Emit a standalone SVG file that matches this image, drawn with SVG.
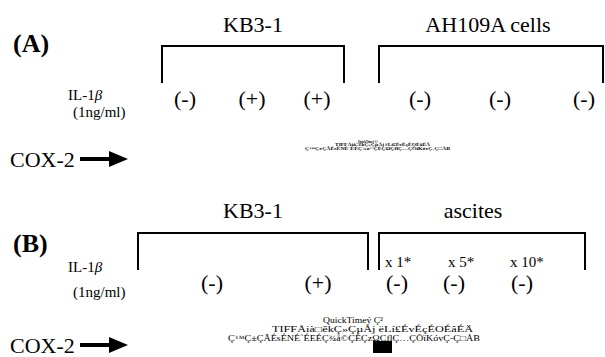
<svg xmlns="http://www.w3.org/2000/svg" width="605" height="357" viewBox="0 0 605 357" font-family="'Liberation Serif', 'DejaVu Serif', serif">
<style>
text{font-family:'Liberation Serif','DejaVu Serif',serif;fill:#000}
.panel{font-size:26px;font-weight:bold}
.title{font-size:22px;text-anchor:middle}
.sign{font-size:22px;text-anchor:middle}
.il{font-size:15px}
.cox{font-size:22px}
.dil{font-size:15px}
.qt{font-size:8.5px}
.qta{font-size:4px;font-weight:bold}
.br{fill:none;stroke:#000;stroke-width:2}
.arr{stroke:#000;stroke-width:4}
</style>
<defs>
<g id="arrow"><line class="arr" x1="80" y1="0" x2="112" y2="0"/><polygon points="109,-8 128,0 109,8" fill="#000"/></g>
</defs>
<rect width="605" height="357" fill="#fff"/>
<g id="panelA">
<text class="panel" x="13" y="52">(A)</text>
<text class="title" x="253" y="32">KB3-1</text>
<text class="title" x="488" y="32">AH109A cells</text>
<polyline class="br" points="162,83 162,46 344,46 344,83"/>
<polyline class="br" points="379,83 379,46 603,46 603,83"/>
<text class="il" x="68" y="100">IL-1<tspan font-style="italic">β</tspan></text>
<text class="il" x="73" y="117">(1ng/ml)</text>
<text class="sign" x="185" y="106">(-)</text>
<text class="sign" x="252" y="106">(+)</text>
<text class="sign" x="317" y="106">(+)</text>
<text class="sign" x="420" y="106">(-)</text>
<text class="sign" x="500" y="106">(-)</text>
<text class="sign" x="584" y="106">(-)</text>
<text class="cox" x="10" y="167">COX-2</text>
<use href="#arrow" y="159"/>
<text class="qta" x="358" y="142.5" textLength="20" lengthAdjust="spacingAndGlyphs">QuickTimeý Ç²</text>
<text class="qta" x="335" y="146" textLength="95" lengthAdjust="spacingAndGlyphs">TIFFÅià□ěkÇ»ÇµÅj ëLí£ÉvÉçÉOÉâÉÄ</text>
<text class="qta" x="305" y="149.5" textLength="145" lengthAdjust="spacingAndGlyphs">Ç™Ç±ÇÃÉsÉNÉ`ÉÉÇ¾å©ÇÈÇΩÇflÇ…ÇÕïKóvÇ-Ç□ÅB</text>
</g>
<g id="panelB">
<text class="panel" x="13" y="252">(B)</text>
<text class="title" x="253" y="218">KB3-1</text>
<text class="title" x="473" y="218">ascites</text>
<polyline class="br" points="138,270 138,233 368,233 368,270"/>
<polyline class="br" points="379,270 379,233 585,233 585,270"/>
<text class="il" x="68" y="272">IL-1<tspan font-style="italic">β</tspan></text>
<text class="il" x="73" y="297">(1ng/ml)</text>
<text class="dil" x="385" y="267">x 1*</text>
<text class="dil" x="448" y="267">x 5*</text>
<text class="dil" x="510" y="267">x 10*</text>
<text class="sign" x="212" y="290">(-)</text>
<text class="sign" x="318" y="290">(+)</text>
<text class="sign" x="397" y="290">(-)</text>
<text class="sign" x="454" y="290">(-)</text>
<text class="sign" x="522" y="290">(-)</text>
<text class="cox" x="10" y="353">COX-2</text>
<use href="#arrow" y="345"/>
<text class="qt" x="323" y="323" textLength="60" lengthAdjust="spacingAndGlyphs">QuickTimeý Ç²</text>
<text class="qt" x="272" y="331.5" textLength="201" lengthAdjust="spacingAndGlyphs">TIFFÅià□ěkÇ»ÇµÅj ëLí£ÉvÉçÉOÉâÉÄ</text>
<text class="qt" x="228" y="340.5" textLength="252" lengthAdjust="spacingAndGlyphs">Ç™Ç±ÇÃÉsÉNÉ`ÉEÉÇ¾å©ÇÉÇzΩÇflÇ…ÇÕïKóvÇ-Ç□ÅB</text>
<rect x="373" y="341" width="19" height="12" fill="#000"/>
</g>
</svg>
